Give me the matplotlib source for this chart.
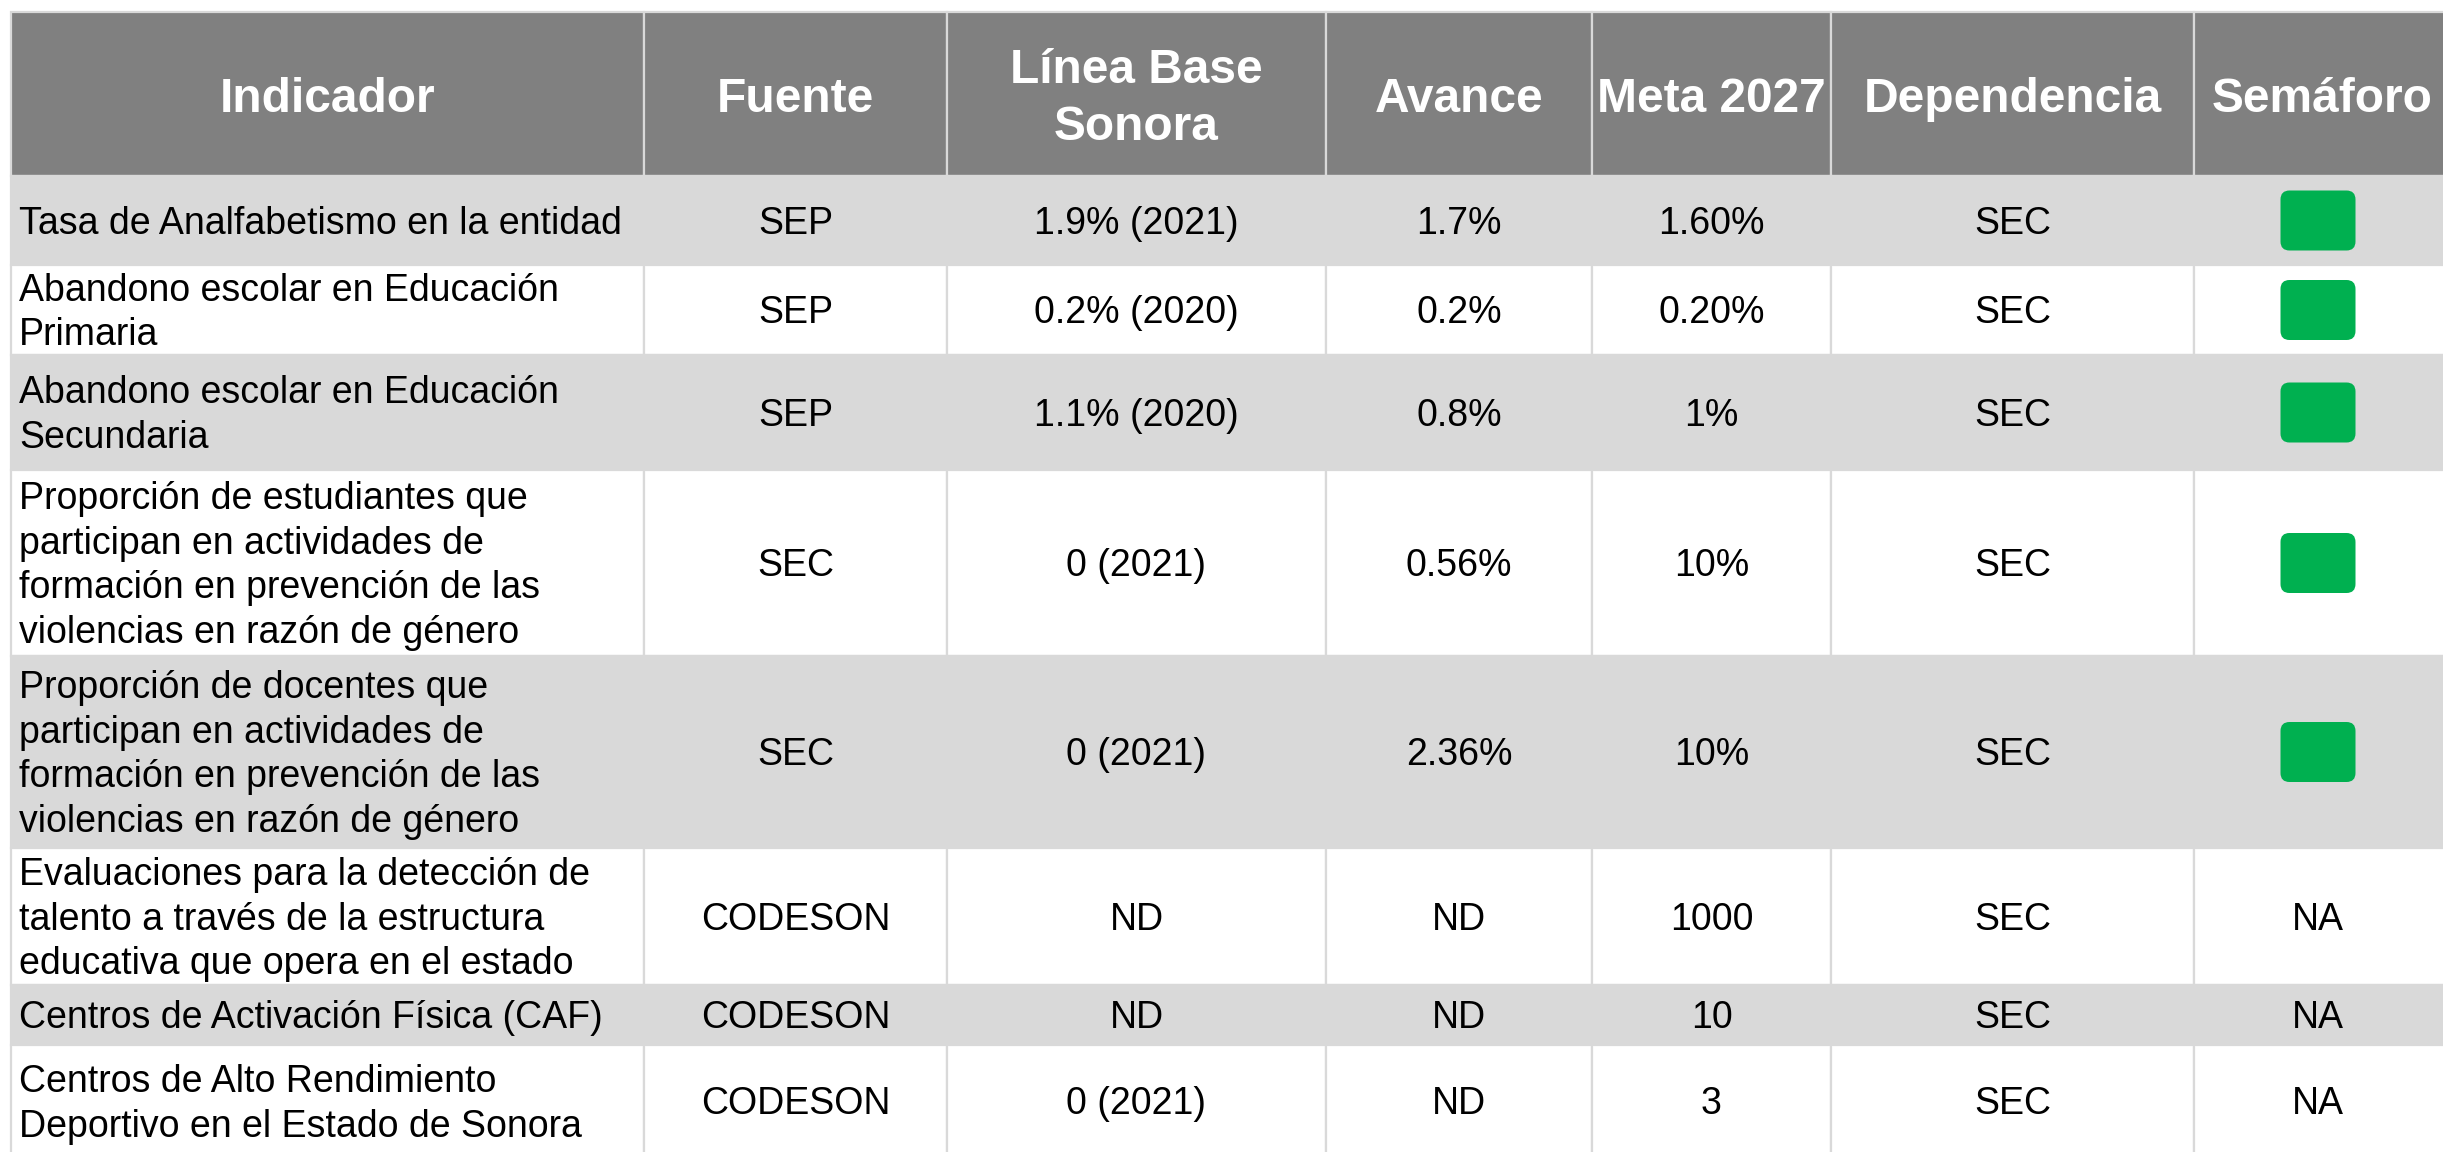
import matplotlib
matplotlib.use("Agg")
import matplotlib.pyplot as plt
from matplotlib.patches import Rectangle, FancyBboxPatch

plt.rcParams['font.family'] = ['Liberation Sans', 'DejaVu Sans']

# Table content
headers = ["Indicador", "Fuente", "Línea Base\nSonora", "Avance", "Meta 2027", "Dependencia", "Semáforo"]
indicadores = [
    "Tasa de Analfabetismo en la entidad",
    "Abandono escolar en Educación\nPrimaria",
    "Abandono escolar en Educación\nSecundaria",
    "Proporción de estudiantes que\nparticipan en actividades de\nformación en prevención de las\nviolencias en razón de género",
    "Proporción de docentes que\nparticipan en actividades de\nformación en prevención de las\nviolencias en razón de género",
    "Evaluaciones para la detección de\ntalento a través de la estructura\neducativa que opera en el estado",
    "Centros de Activación Física (CAF)",
    "Centros de Alto Rendimiento\nDeportivo en el Estado de Sonora",
]
fuentes = ["SEP", "SEP", "SEP", "SEC", "SEC", "CODESON", "CODESON", "CODESON"]
linea_base = ["1.9% (2021)", "0.2% (2020)", "1.1% (2020)", "0 (2021)", "0 (2021)", "ND", "ND", "0 (2021)"]
avance = ["1.7%", "0.2%", "0.8%", "0.56%", "2.36%", "ND", "ND", "ND"]
meta_2027 = ["1.60%", "0.20%", "1%", "10%", "10%", "1000", "10", "3"]
dependencia = ["SEC"] * 8
semaforo = ["verde", "verde", "verde", "verde", "verde", "NA", "NA", "NA"]

# Layout (pixels)
col_edges = [11, 644, 947, 1326, 1592, 1831, 2194, 2450]
row_edges = [12, 176, 265, 355, 470, 656, 848, 985, 1045, 1158]

HEADER_BG = "#808080"
STRIPE = "#D9D9D9"
GRID = "#D9D9D9"
GREEN = "#00B050"

W, H = 2443, 1152
fig = plt.figure(figsize=(W / 100, H / 100), dpi=100)
ax = fig.add_axes([0, 0, 1, 1])
ax.set_xlim(0, W)
ax.set_ylim(H, 0)
ax.axis("off")

columns = [indicadores, fuentes, linea_base, avance, meta_2027, dependencia, semaforo]

# header
for j, h in enumerate(headers):
    x0, x1 = col_edges[j], col_edges[j + 1]
    y0, y1 = row_edges[0], row_edges[1]
    ax.add_patch(Rectangle((x0, y0), x1 - x0, y1 - y0, facecolor=HEADER_BG,
                           edgecolor=GRID, linewidth=1.6))
    ax.text((x0 + x1) / 2, (y0 + y1) / 2 + 5, h, ha="center", va="center",
            color="white", fontsize=34.5, fontweight="bold", linespacing=1.35)

# body
for i in range(len(indicadores)):
    y0, y1 = row_edges[i + 1], row_edges[i + 2]
    bg = STRIPE if i % 2 == 0 else "white"
    ym = (y0 + y1) / 2
    for j, col in enumerate(columns):
        x0, x1 = col_edges[j], col_edges[j + 1]
        ax.add_patch(Rectangle((x0, y0), x1 - x0, y1 - y0, facecolor=bg,
                               edgecolor=GRID, linewidth=1.6))
        val = col[i]
        if j == 0:
            ax.text(x0 + 8, ym + 3, val, ha="left", va="center", fontsize=27,
                    color="black", linespacing=1.31)
        elif j == 6 and val == "verde":
            bw, bh = 75, 60
            xc = (x0 + x1) / 2 - 4
            ax.add_patch(FancyBboxPatch((xc - bw / 2, ym - bh / 2), bw, bh,
                                        boxstyle="round,pad=0,rounding_size=9",
                                        facecolor=GREEN, edgecolor="none"))
        else:
            xc = (x0 + x1) / 2 if j != 6 else (x0 + x1) / 2 - 4
            ax.text(xc, ym + 3, val, ha="center", va="center", fontsize=27, color="black")

fig.savefig("out.png", dpi=100)
